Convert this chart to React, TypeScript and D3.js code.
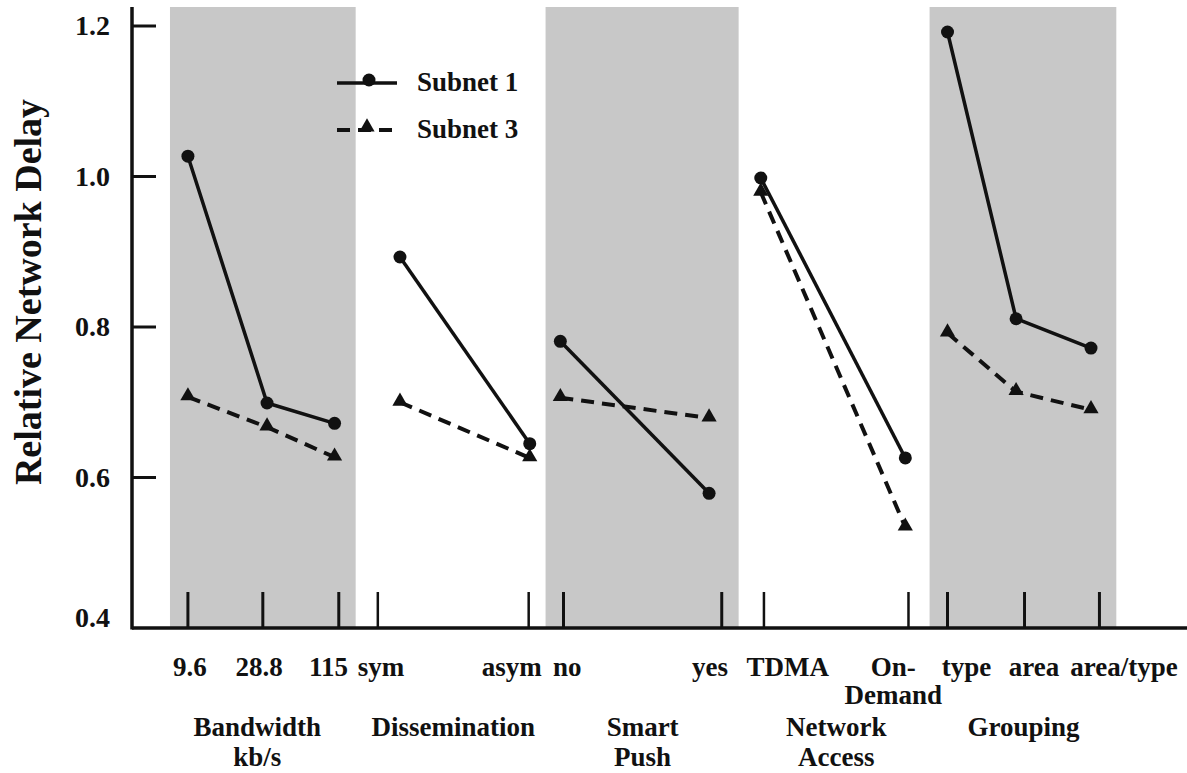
import React from "react";
import * as d3 from "d3";

const W = 1187;
const H = 773;
const FONT = '"Liberation Serif", "Times New Roman", Times, serif';

// factors and their levels (x positions in 0-100 chart units)
const factors = ["Bandwidth\nkb/s", "Dissemination", "Smart\nPush", "Network\nAccess", "Grouping"];
const levels = [
  ["9.6", "28.8", "115"],
  ["sym", "asym"],
  ["no", "yes"],
  ["TDMA", "On-\nDemand"],
  ["type", "area", "area/type"],
];
const levelPos = [
  [5.3, 12.8, 19.2],
  [25.4, 37.7],
  [40.6, 54.7],
  [59.6, 73.3],
  [77.3, 83.8, 90.9],
];
const tickPos = [
  [5.3, 12.4, 19.6],
  [23.3, 37.6],
  [40.9, 55.9],
  [59.9, 73.6],
  [77.3, 84.6, 91.7],
];
const subnet1 = [
  [1.027, 0.699, 0.672],
  [0.893, 0.645],
  [0.781, 0.579],
  [0.998, 0.626],
  [1.192, 0.811, 0.772],
];
const subnet3 = [
  [0.707, 0.667, 0.627],
  [0.7, 0.626],
  [0.706, 0.679],
  [0.979, 0.534],
  [0.792, 0.714, 0.69],
];
const seriesNames = ["Subnet 1", "Subnet 3"];
const yTicks = [0.4, 0.6, 0.8, 1.0, 1.2];
const shaded = [true, false, true, false, true];

// label nudges (px) so the level labels do not collide
const labelDx = [
  [2, -8, -6],
  [-19, -18],
  [7, 1],
  [27, -12],
  [19, 18, 33],
];

const axisX = 132;
const axisY = 628;
const top = 7;

const x = d3.scaleLinear().domain([0, 100]).range([axisX, W]);
const y = d3.scaleLinear().domain([0.4, 1.2]).range([axisY, 26]);
const line = d3
  .line<[number, number]>()
  .x((d) => x(d[0]))
  .y((d) => y(d[1]));
const tri = d3.symbol(d3.symbolTriangle, 100)();

const Circle = ({ cx, cy }: { cx: number; cy: number }) => <circle cx={cx} cy={cy} r={6.5} fill="#111" />;
const Tri = ({ cx, cy }: { cx: number; cy: number }) => (
  <path d={tri as string} transform={`translate(${cx},${cy - 1})`} fill="#111" />
);

export default function App() {
  const txt = { fontFamily: FONT, fontWeight: 700, fill: "#111" } as const;
  return (
    <svg width={W} height={H} style={{ position: "absolute", left: 0, top: 0, background: "#fff" }}>
      {/* shaded factor bands */}
      {tickPos.map((t, i) =>
        shaded[i] ? (
          <rect
            key={i}
            x={x(t[0] - 1.7)}
            y={top}
            width={x(t[t.length - 1] + 1.6) - x(t[0] - 1.7)}
            height={axisY - top}
            fill="#c8c8c8"
          />
        ) : null
      )}

      {/* level ticks at the bottom */}
      {tickPos.map((t, i) =>
        t.map((p, j) => (
          <line
            key={`${i}-${j}`}
            x1={x(p)}
            x2={x(p)}
            y1={592}
            y2={axisY}
            stroke="#111"
            strokeWidth={shaded[i] ? 3 : 2.5}
          />
        ))
      )}

      {/* axes */}
      <line x1={axisX} x2={axisX} y1={top} y2={axisY + 1.5} stroke="#111" strokeWidth={3.5} />
      <line x1={axisX} x2={W} y1={axisY} y2={axisY} stroke="#111" strokeWidth={3.5} />
      {yTicks.map((v) => (
        <g key={v}>
          {v > 0.4 && <line x1={axisX} x2={axisX + 24} y1={y(v)} y2={y(v)} stroke="#111" strokeWidth={3} />}
          <text x={110} y={y(v) + (v === 0.4 ? -1 : 9)} textAnchor="end" fontSize={28} {...txt}>
            {v.toFixed(1)}
          </text>
        </g>
      ))}
      <text transform={`translate(41, 292) rotate(-90)`} textAnchor="middle" fontSize={38} {...txt}>
        Relative Network Delay
      </text>

      {/* series */}
      {levelPos.map((pos, i) => {
        const s1 = pos.map((p, j) => [p, subnet1[i][j]] as [number, number]);
        const s3 = pos.map((p, j) => [p, subnet3[i][j]] as [number, number]);
        return (
          <g key={i}>
            <path d={line(s3) as string} fill="none" stroke="#111" strokeWidth={4} strokeDasharray="13,8" />
            <path d={line(s1) as string} fill="none" stroke="#111" strokeWidth={3.5} />
            {s3.map((d, j) => (
              <Tri key={`t${j}`} cx={x(d[0])} cy={y(d[1])} />
            ))}
            {s1.map((d, j) => (
              <Circle key={`c${j}`} cx={x(d[0])} cy={y(d[1])} />
            ))}
          </g>
        );
      })}

      {/* level labels, one text per line */}
      {levels.map((lv, i) =>
        lv.map((lab, j) =>
          lab.split("\n").map((s, k) => (
            <text
              key={`${i}-${j}-${k}`}
              x={x(levelPos[i][j]) + labelDx[i][j]}
              y={676 + k * 28}
              textAnchor="middle"
              fontSize={27}
              {...txt}
            >
              {s}
            </text>
          ))
        )
      )}

      {/* factor labels */}
      {factors.map((f, i) => {
        const t = tickPos[i];
        const cx = x((t[0] + t[t.length - 1]) / 2) - (i === 0 ? 6 : 0);
        return f.split("\n").map((s, k) => (
          <text key={`${f}-${k}`} x={cx} y={736 + k * 30} textAnchor="middle" fontSize={27} {...txt}>
            {s}
          </text>
        ));
      })}

      {/* legend */}
      <g>
        <line x1={337} x2={397} y1={83} y2={83} stroke="#111" strokeWidth={3.5} />
        <Circle cx={369} cy={80} />
        <text x={417} y={91} fontSize={27} {...txt}>
          {seriesNames[0]}
        </text>
        <line x1={337} x2={397} y1={130} y2={130} stroke="#111" strokeWidth={4} strokeDasharray="13,8" />
        <Tri cx={367} cy={128} />
        <text x={417} y={138} fontSize={27} {...txt}>
          {seriesNames[1]}
        </text>
      </g>
    </svg>
  );
}
